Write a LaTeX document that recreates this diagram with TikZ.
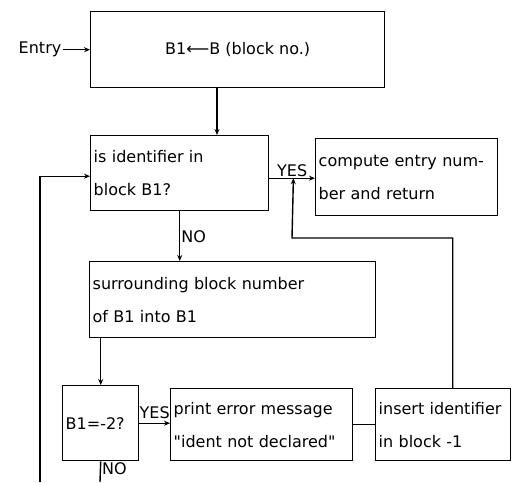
\documentclass[tikz,border=0pt]{standalone}
\usepackage{fontspec}
\setmainfont{DejaVu Sans}
\usetikzlibrary{positioning, arrows.meta}

\begin{document}
\begin{tikzpicture}[x=1pt, y=-1pt, line width=1.4pt,
  box/.style={draw, anchor=north west, inner xsep=3pt, inner ysep=0pt,
              align=left, font=\fontsize{16}{33}\selectfont},
  lbl/.style={inner sep=1pt, font=\fontsize{16}{18}\selectfont},
  >={Stealth[length=6pt, width=5pt]}
]
  \useasboundingbox (0,0) rectangle (516,482);

  % boxes
  \node[box, align=center, minimum width=294pt, minimum height=76pt] (start) at (90,11)
    {B1⟵B (block no.)};
  \node[lbl, left=27pt of start] (entry) {Entry};
  \node[box, minimum width=178pt, minimum height=75pt, text width=172pt] (ident) at (90,135)
    {is identifier in\\block B1?};
  \node[box, minimum width=182pt, minimum height=77pt, text width=176pt] (comp) at (315,138)
    {compute entry num-\\ber and return};
  \node[box, minimum width=286pt, minimum height=76pt, text width=280pt] (surr) at (89,261)
    {surrounding block number\\of B1 into B1};
  \node[box, minimum width=76pt, minimum height=75pt, text width=70pt] (test) at (62,385)
    {B1=-2?};
  \node[box, minimum width=182pt, minimum height=72pt, text width=176pt] (error) at (170,388)
    {print error message\\\textquotedbl ident not declared\textquotedbl};
  \node[box, minimum width=135pt, minimum height=72pt, text width=129pt] (insert) at (375,388)
    {insert identifier\\in block -1};

  % free ends and bends
  \coordinate (join) at ([shift={(24pt,-5pt)}]ident.east);
  \coordinate (back) at (292,238);
  \coordinate (noend) at (100,482);
  \coordinate (loopend) at (40,482);

  % connectors
  \draw[->] (entry) -- (start);
  \draw[->] ([xshift=127pt]start.south west) -- ([xshift=127pt]start.south west |- ident.north);
  \draw[->] ([yshift=-5pt]ident.east) -- ([yshift=-5pt]ident.east -| comp.west)
    node[lbl, midway, above] {YES};
  \draw[->] ([xshift=9.5pt]insert.north) |- (back) -- (join);
  \draw[->] (ident.south) -- (ident.south |- surr.north)
    node[lbl, midway, right] {NO};
  \draw[->] (surr.south -| test.north) -- (test.north);
  \draw[->] (test.east) -- (test.east -| error.west)
    node[lbl, midway, above, yshift=3pt] {YES};
  \draw (error.east) -- (insert.west);
  \draw (test.south) -- (noend) node[lbl, midway, right, yshift=3pt] {NO};
  \draw[->] (loopend) |- ([yshift=-3pt]ident.west);
\end{tikzpicture}
\end{document}
